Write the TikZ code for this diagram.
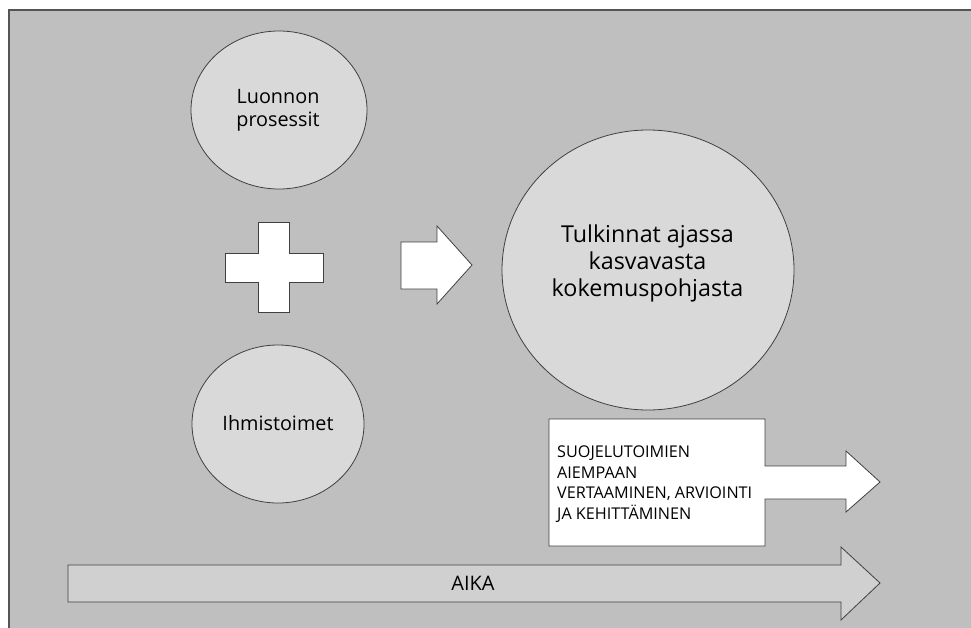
\documentclass[tikz,border=0pt]{standalone}
\usepackage{fontspec}
\setmainfont{Open Sans}
\usetikzlibrary{shapes.geometric}
\definecolor{bgc}{HTML}{BFBFBF}
\definecolor{ellc}{HTML}{D9D9D9}
\definecolor{aikac}{HTML}{D0D0D0}
\definecolor{linec}{HTML}{404040}
\definecolor{framec}{HTML}{555555}
\tikzset{
  ell/.style={ellipse, draw=linec, fill=ellc, line width=0.8pt, inner sep=0pt},
  blockshape/.style={draw=linec, fill=white, line width=0.8pt, line join=miter},
  midtxt/.style={font=\fontsize{19.8}{23.3}\selectfont, align=center, text=black, inner sep=0pt},
  bigtxt/.style={font=\fontsize{23.3}{27.2}\selectfont, align=center, text=black, inner sep=0pt},
  boxtxt/.style={font=\fontsize{16.2}{20.4}\selectfont, align=left, text=black, inner sep=0pt},
}
\begin{document}
\begin{tikzpicture}[x=1pt,y=-1pt]
\useasboundingbox (0,0) rectangle (971,627);
% background
\fill[bgc] (9,10) rectangle (980,640);
\draw[framec, line width=1.6pt] (9,640) -- (9,10) -- (980,10);
% ellipses
\node[ell, minimum width=176pt, minimum height=158pt] (e1) at (279,110) {};
\node[ell, minimum width=172pt, minimum height=158pt] (e2) at (278,424) {};
\node[ell, minimum width=292pt, minimum height=280pt] (e3) at (648,270) {};
\node[midtxt, anchor=base] (t1) at (278,126.7) {Luonnon\\prosessit};
\node[midtxt, anchor=base] (t2) at (278,430) {Ihmistoimet};
\node[bigtxt, anchor=base] (t3) at (647.5,296.7) {Tulkinnat ajassa\\kasvavasta\\kokemuspohjasta};
% plus
\draw[blockshape] (258,222) -- (289,222) -- (289,253) -- (323,253) -- (323,282) -- (289,282)
  -- (289,312) -- (258,312) -- (258,282) -- (225,282) -- (225,253) -- (258,253) -- cycle;
% small arrow
\draw[blockshape] (401,242) -- (437,242) -- (437,226) -- (472,265) -- (437,304) -- (437,289)
  -- (401,289) -- cycle;
% box with arrow
\draw[blockshape] (549,419) -- (765,419) -- (765,466) -- (846,466) -- (846,451) -- (880,482)
  -- (846,512) -- (846,499) -- (765,499) -- (765,546) -- (549,546) -- cycle;
\node[boxtxt, anchor=base west] (t4) at (557,519) {SUOJELUTOIMIEN\\AIEMPAAN\\VERTAAMINEN, ARVIOINTI\\JA KEHITTÄMINEN};
% time arrow
\draw[draw=linec, fill=aikac, line width=0.8pt] (68,565) -- (841,565) -- (841,547) -- (880,583)
  -- (841,620) -- (841,602) -- (68,602) -- cycle;
\node[font=\fontsize{20}{24}\selectfont, inner sep=0pt] (aika) at (473,583) {AIKA};
\end{tikzpicture}
\end{document}
